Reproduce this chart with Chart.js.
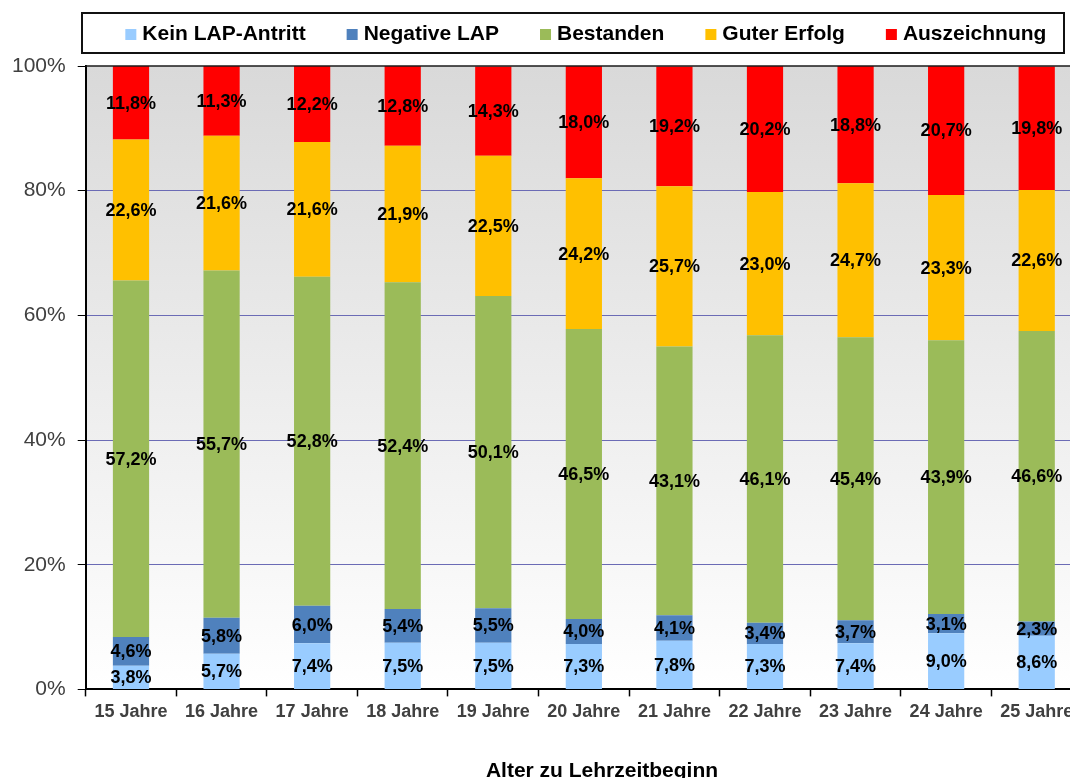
<!DOCTYPE html>
<html lang="de">
<head>
<meta charset="utf-8">
<title>LAP-Ergebnis nach Alter zu Lehrzeitbeginn</title>
<script src="https://cdn.jsdelivr.net/npm/chart.js@4/dist/chart.umd.min.js"></script>
<style>
    html, body {
        margin: 0;
        padding: 0;
        background: #ffffff;
        overflow: hidden;
    }
    #wrap {
        width: 1100px;
        height: 778px;
    }
</style>
</head>
<body>
<div id="wrap">
    <canvas id="grafik" width="1100" height="778"></canvas>
</div>
<script>
const kategorien = [
    "15 Jahre", "16 Jahre", "17 Jahre", "18 Jahre", "19 Jahre", "20 Jahre",
    "21 Jahre", "22 Jahre", "23 Jahre", "24 Jahre", "25 Jahre"
];

const keinAntritt = [3.8, 5.7, 7.4, 7.5, 7.5, 7.3, 7.8, 7.3, 7.4, 9.0, 8.6];
const negativ = [4.6, 5.8, 6.0, 5.4, 5.5, 4.0, 4.1, 3.4, 3.7, 3.1, 2.3];
const bestanden = [57.2, 55.7, 52.8, 52.4, 50.1, 46.5, 43.1, 46.1, 45.4, 43.9, 46.6];
const guterErfolg = [22.6, 21.6, 21.6, 21.9, 22.5, 24.2, 25.7, 23.0, 24.7, 23.3, 22.6];
const auszeichnung = [11.8, 11.3, 12.2, 12.8, 14.3, 18.0, 19.2, 20.2, 18.8, 20.7, 19.8];

const serienNamen = ["Kein LAP-Antritt", "Negative LAP", "Bestanden", "Guter Erfolg", "Auszeichnung"];
const serienFarben = ["#99ccff", "#4f81bd", "#9bbb59", "#ffc000", "#ff0000"];
const yTicks = [0, 20, 40, 60, 80, 100];

const schrift = "'Liberation Sans', Arial, sans-serif";

function formatProzent(v) {
    return v.toFixed(1).replace(".", ",") + "%";
}

// Hintergrund der Zeichenfläche (grauer Verlauf) und obere Rahmenlinie
const hintergrund = {
    id: "hintergrund",
    beforeDraw(chart) {
        const { ctx, chartArea: a } = chart;
        const g = ctx.createLinearGradient(0, a.top, 0, a.bottom);
        g.addColorStop(0, "#d9d9d9");
        g.addColorStop(1, "#ffffff");
        ctx.save();
        ctx.fillStyle = g;
        ctx.fillRect(a.left, a.top, a.right - a.left, a.bottom - a.top);
        ctx.restore();
    },
    afterDraw(chart) {
        const { ctx, chartArea: a } = chart;
        ctx.save();
        ctx.strokeStyle = "#1a1a1a";
        ctx.lineWidth = 1.5;
        ctx.beginPath();
        ctx.moveTo(a.left, a.top);
        ctx.lineTo(a.right, a.top);
        ctx.stroke();
        ctx.restore();
    }
};

// Prozentwerte mittig in jedes Segment
const wertLabels = {
    id: "wertLabels",
    afterDatasetsDraw(chart) {
        const ctx = chart.ctx;
        ctx.save();
        ctx.font = "bold 18px " + schrift;
        ctx.fillStyle = "#000000";
        ctx.textAlign = "center";
        ctx.textBaseline = "middle";
        chart.data.datasets.forEach((ds, i) => {
            chart.getDatasetMeta(i).data.forEach((bar, j) => {
                const y = (bar.y + bar.base) / 2;
                ctx.fillText(formatProzent(ds.data[j]), bar.x, y + 1);
            });
        });
        ctx.restore();
    }
};

// Legende im Kasten oben und Achsentitel unten
const legendeUndTitel = {
    id: "legendeUndTitel",
    afterDraw(chart) {
        const { ctx, chartArea: a } = chart;
        ctx.save();

        ctx.strokeStyle = "#111111";
        ctx.lineWidth = 2;
        ctx.strokeRect(82, 13, 982, 40);

        ctx.font = "bold 21px " + schrift;
        ctx.textBaseline = "middle";
        ctx.textAlign = "left";
        const box = 11;
        const abstandText = 6;
        const abstandItem = 41;
        const breiten = chart.data.datasets.map(ds => ctx.measureText(ds.label).width);
        const gesamt = breiten.reduce((s, w) => s + box + abstandText + w, 0) + abstandItem * (breiten.length - 1);
        let x = (a.left + a.right) / 2 + 2 - gesamt / 2;
        chart.data.datasets.forEach((ds, i) => {
            ctx.fillStyle = ds.backgroundColor;
            ctx.fillRect(x, 29, box, box);
            ctx.fillStyle = "#000000";
            ctx.fillText(ds.label, x + box + abstandText, 34);
            x += box + abstandText + breiten[i] + abstandItem;
        });

        ctx.font = "bold 21px " + schrift;
        ctx.textAlign = "center";
        ctx.fillText("Alter zu Lehrzeitbeginn", 602, 771);

        ctx.restore();
    }
};

const serien = [keinAntritt, negativ, bestanden, guterErfolg, auszeichnung];

const datasets = serien.map((werte, i) => ({
    label: serienNamen[i],
    data: werte,
    backgroundColor: serienFarben[i],
    borderWidth: 0,
    categoryPercentage: 1,
    barPercentage: 0.4
}));

new Chart(document.getElementById("grafik"), {
    type: "bar",
    data: {
        labels: kategorien,
        datasets
    },
    options: {
        responsive: false,
        animation: false,
        layout: {
            padding: { top: 66, left: 0, right: 18, bottom: 50 }
        },
        plugins: {
            legend: { display: false },
            tooltip: { enabled: false }
        },
        scales: {
            x: {
                stacked: true,
                grid: {
                    offset: true,
                    drawOnChartArea: false,
                    drawTicks: true,
                    tickLength: 7,
                    tickColor: "#000000",
                    tickWidth: 1.5
                },
                border: { color: "#000000", width: 2 },
                ticks: {
                    color: "#404040",
                    padding: 5,
                    maxRotation: 0,
                    autoSkip: false,
                    font: { family: schrift, size: 18, weight: "bold" }
                }
            },
            y: {
                stacked: true,
                min: 0,
                max: 100,
                afterBuildTicks(scale) {
                    scale.ticks = yTicks.map(v => ({ value: v }));
                },
                grid: {
                    color: ctx => (ctx.tick && (ctx.tick.value === 0 || ctx.tick.value === 100)) ? "rgba(0,0,0,0)" : "#6b6bb5",
                    lineWidth: 1,
                    tickLength: 8,
                    tickColor: "#000000"
                },
                border: { color: "#000000", width: 2 },
                ticks: {
                    color: "#404040",
                    padding: 12,
                    font: { family: schrift, size: 21 },
                    callback: v => v + "%"
                }
            }
        }
    },
    plugins: [hintergrund, wertLabels, legendeUndTitel]
});
</script>
</body>
</html>
